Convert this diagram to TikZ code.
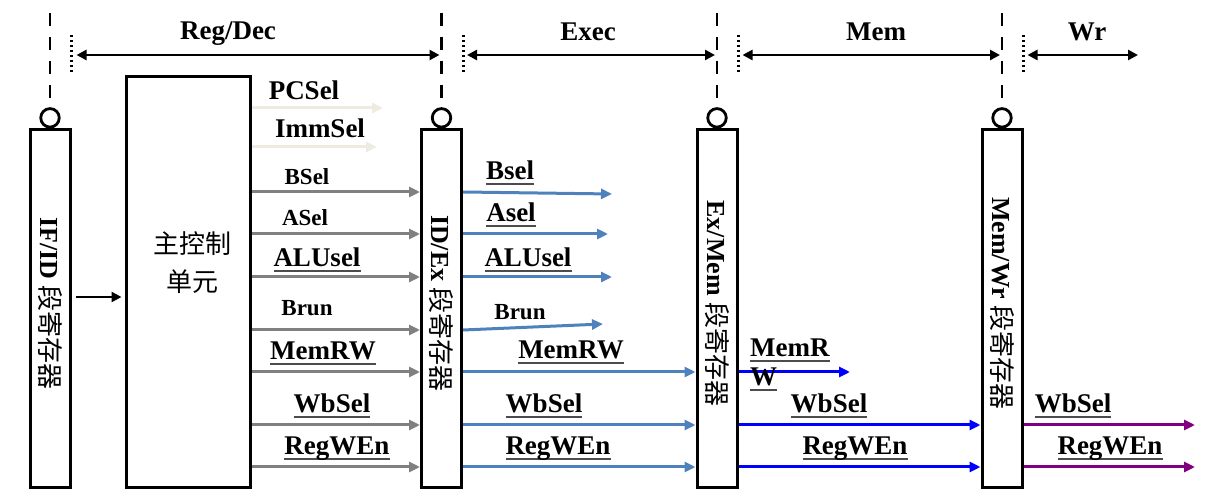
\documentclass[tikz,border=0pt]{standalone}
\usepackage{fontspec}
\setmainfont{Liberation Serif}
\newfontfamily\cjk{Noto Sans CJK SC}
\usetikzlibrary{arrows.meta,positioning,calc}
\definecolor{pale}{HTML}{EEECE1}
\definecolor{sigblue}{HTML}{4F81BD}
\definecolor{wrpurple}{HTML}{800080}
\newcommand\uln[1]{\setbox0=\hbox{#1}\rlap{\color{black!70}\rule[-5pt]{\wd0}{1.8pt}}\box0}

\begin{document}
\begin{tikzpicture}[
    x=1pt, y=-1pt,
    every node/.style={
        font=\bfseries\fontsize{27}{30}\selectfont
    },
    regbox/.style={draw, line width=3pt, minimum width=40pt, minimum height=357pt, inner sep=0pt},
    ctrlbox/.style={draw, line width=3pt, minimum width=124pt, minimum height=410pt, inner sep=0pt},
    clk/.style={draw, circle, line width=2.8pt, minimum size=18.5pt, inner sep=0pt},
    vtext/.style={rotate=-90, font=\bfseries\fontsize{26}{28}\selectfont},
    small/.style={font=\bfseries\fontsize{23}{26}\selectfont},
    lbl/.style={anchor=base, inner sep=0pt},
    bar/.style={line width=2.8pt, dash pattern=on 13pt off 11pt},
    dotbar/.style={line width=3pt, dash pattern=on 2.5pt off 2.5pt},
    stage/.style={line width=2.8pt, {Triangle[length=10pt,width=10pt]}-{Triangle[length=10pt,width=10pt]}},
    sig/.style={line width=3pt, -{Triangle[length=11pt,width=10pt]}}
]
\useasboundingbox (0,0) rectangle (1224,502);

% pipeline registers and control unit
\node[regbox] (ifid) at (50,308.5) {};
\node[ctrlbox] (ctrl) at (188,282) {};
\node[regbox] (idex) at (441.5,308.5) {};
\node[regbox] (exmem) at (717,308.5) {};
\node[regbox] (memwr) at (1002,308.5) {};

\node[vtext] (ifidtxt) at ([yshift=5pt]ifid.center) {IF/ID {\cjk\mdseries 段寄存器}};
\node[vtext] (idextxt) at ([yshift=5pt]idex.center) {ID/Ex {\cjk\mdseries 段寄存器}};
\node[vtext] (exmemtxt) at ([yshift=5pt]exmem.center) {Ex/Mem {\cjk\mdseries 段寄存器}};
\node[vtext] (memwrtxt) at ([yshift=5pt]memwr.center) {Mem/Wr {\cjk\mdseries 段寄存器}};
\node[font=\cjk\fontsize{26}{38}\selectfont, align=center] (ctrltxt) at ([xshift=4pt,yshift=19pt]ctrl.center) {主控制\\单元};

% clocks and stage boundaries
\foreach \r in {ifid,idex,exmem,memwr}{
    \node[clk, above=0pt of \r] (\r clk) {};
    \draw[bar] (\r.north |- 0,13) -- (\r clk.north);
    \draw[dotbar] (\r.east |- 0,35) -- (\r.east |- 0,73);
}
\coordinate (wrend) at (1138,55);
\draw[stage] ([xshift=5pt]ifid.east |- 0,55) -- ([xshift=-2pt]idex.north |- 0,55);
\draw[stage] ([xshift=4pt]idex.east |- 0,55) -- ([xshift=-2pt]exmem.north |- 0,55);
\draw[stage] ([xshift=4pt]exmem.east |- 0,55) -- ([xshift=-2pt]memwr.north |- 0,55);
\draw[stage] ([xshift=4pt]memwr.east |- 0,55) -- (wrend);
\node[lbl] (sregdec) at (228,40) {Reg/Dec};
\node[lbl] (sexec) at (588,41) {Exec};
\node[lbl] (smem) at (876,41) {Mem};
\node[lbl] (swr) at (1087,41) {Wr};

\draw[line width=2.8pt, -{Triangle[length=10pt,width=10pt]}] ([xshift=4pt]ifid.east |- 0,297) -- ([xshift=-3pt]ctrl.west |- 0,297);

% Reg/Dec signals
\coordinate (pcselend) at (383,108);
\coordinate (immselend) at (377,147);
\draw[sig, pale] (ctrl.east |- 0,108) -- (pcselend);
\draw[sig, pale] (ctrl.east |- 0,147) -- (immselend);
\foreach \y in {192,234,277,330,372,425,467}
    \draw[sig, gray] (ctrl.east |- 0,\y) -- (idex.west |- 0,\y);
\node[lbl] (lpcsel) at (304,100) {PCSel};
\node[lbl] (limmsel) at (320,138) {ImmSel};
\node[lbl, small] (lbsel) at (307,185) {BSel};
\node[lbl, small] (lasel) at (305,226) {ASel};
\node[lbl] (lalusel) at (317,267) {\uln{ALUsel}};
\node[lbl, small] (lbrun) at (307,316) {Brun};
\node[lbl] (lmemrw) at (323,360) {\uln{MemRW}};
\node[lbl] (lwbsel) at (332,413) {\uln{WbSel}};
\node[lbl] (lregwen) at (337,455) {\uln{RegWEn}};

% Exec signals
\coordinate (bselend) at (612,194);
\coordinate (aselend) at (608,234);
\coordinate (aluselend) at (612,277);
\coordinate (brunend) at (603,324);
\draw[sig, sigblue] (idex.east |- 0,192) -- (bselend);
\draw[sig, sigblue] (idex.east |- 0,234) -- (aselend);
\draw[sig, sigblue] (idex.east |- 0,277) -- (aluselend);
\draw[sig, sigblue] (idex.east |- 0,330) -- (brunend);
\foreach \y in {372,425,467}
    \draw[sig, sigblue] (idex.east |- 0,\y) -- (exmem.west |- 0,\y);
\node[lbl] (ebsel) at (510,180) {\uln{Bsel}};
\node[lbl] (easel) at (511,222) {\uln{Asel}};
\node[lbl] (ealusel) at (528,267) {\uln{ALUsel}};
\node[lbl, small] (ebrun) at (520,320) {Brun};
\node[lbl] (ememrw) at (571,359) {\uln{MemRW}};
\node[lbl] (ewbsel) at (544,413) {\uln{WbSel}};
\node[lbl] (eregwen) at (558,455) {\uln{RegWEn}};

% Mem signals
\coordinate (memrwend) at (850,372);
\draw[sig, blue] (exmem.east |- 0,372) -- (memrwend);
\foreach \y in {425,467}
    \draw[sig, blue] (exmem.east |- 0,\y) -- (memwr.west |- 0,\y);
\node[lbl, anchor=base west] (mmemrwa) at (750,357) {\uln{MemR}};
\node[lbl, anchor=base west] (mmemrwb) at (750,386) {\uln{W}};
\node[lbl] (mwbsel) at (829,413) {\uln{WbSel}};
\node[lbl] (mregwen) at (855,455) {\uln{RegWEn}};

% Wr signals
\coordinate (wbselend) at (1195,425);
\coordinate (regwenend) at (1195,467);
\draw[sig, wrpurple] (memwr.east |- 0,425) -- (wbselend);
\draw[sig, wrpurple] (memwr.east |- 0,467) -- (regwenend);
\node[lbl] (wwbsel) at (1073,413) {\uln{WbSel}};
\node[lbl] (wregwen) at (1110,455) {\uln{RegWEn}};
\end{tikzpicture}
\end{document}
